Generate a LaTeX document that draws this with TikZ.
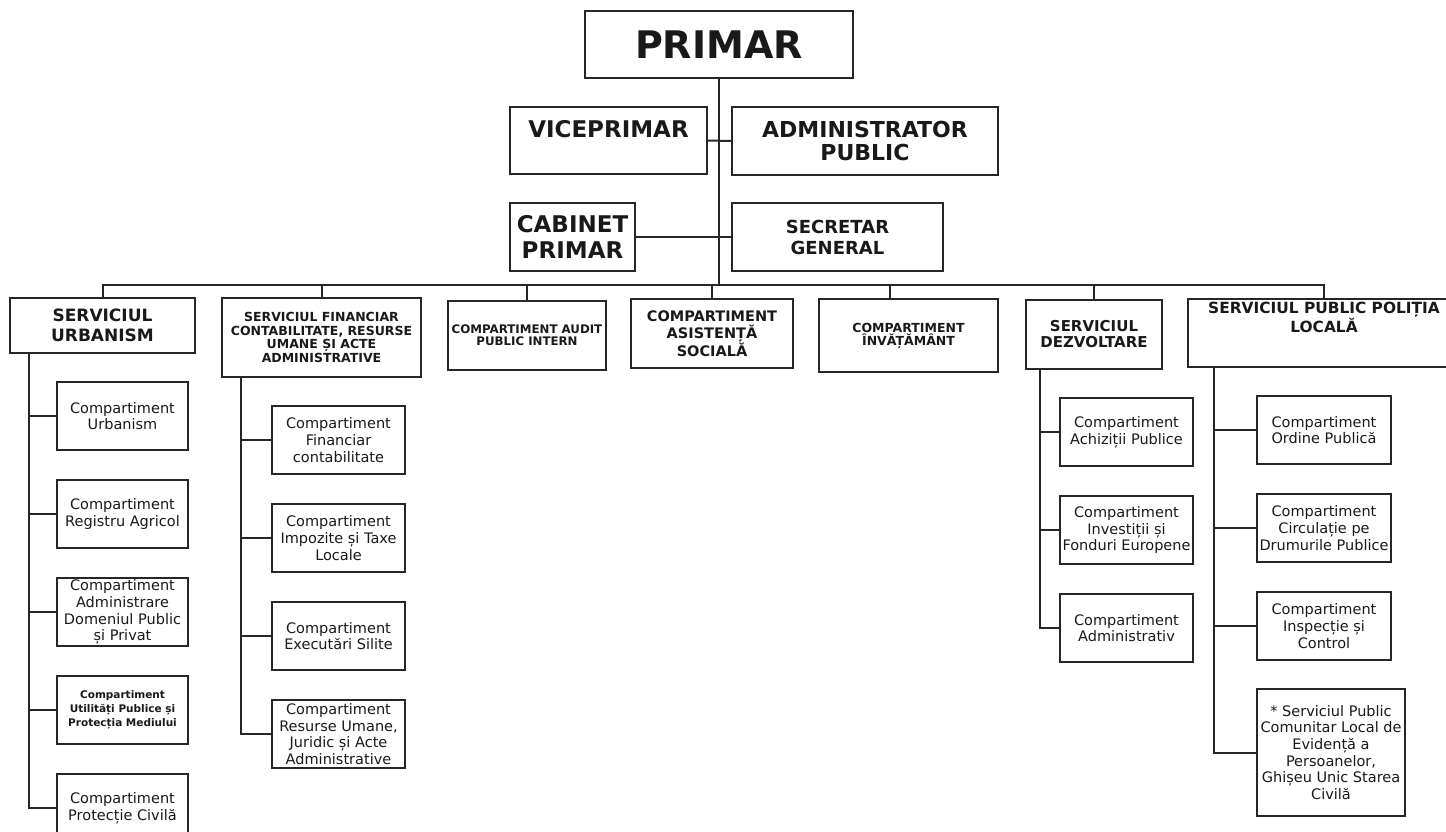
\documentclass[tikz,border=0pt]{standalone}
\usepackage{fontspec}
\setmainfont{DejaVu Sans}
\usetikzlibrary{
  positioning,  % Function "of" (e.g. [below=of x])
  calc,         % Calculations $...$
}
\newcommand{\fs}[2]{\fontsize{#1}{#2}\selectfont}
\def\mygap{28pt}
\tikzset{
  my box/.style={
    draw=black!85,
    line width=2pt,
    inner sep=0pt,
    align=center,
    text=black!90,
    rectangle
  },
  wh/.style 2 args={
    minimum width=#1,
    minimum height=#2
  },
  my head/.style={
    my box
  },
  my sub/.style={
    my box,
    wh={133pt}{68pt},
    font=\fs{14.5}{16.7}
  },
  my line/.style={
    draw=black!85,
    line width=2pt
  }
}
\begin{document}
\begin{tikzpicture}[x=1pt,y=-1pt]
\useasboundingbox (0,0) rectangle (1446,831);
% top management
\node[my head,wh={268pt}{67pt},font=\bfseries\fs{38}{40}] (pri) at (719,44.5) {PRIMAR};
\node[my head,wh={197pt}{67pt},font=\bfseries\fs{23}{23}] (vice) at (608.5,140.5) {VICEPRIMAR\\~};
\node[my head,wh={266pt}{68pt},font=\bfseries\fs{22}{23}] (adm) at (865,141) {ADMINISTRATOR\\PUBLIC};
\node[my head,wh={125pt}{68pt},font=\bfseries\fs{23}{26.5}] (cab) at (572.5,237) {CABINET\\PRIMAR};
\node[my head,wh={211pt}{68pt},font=\bfseries\fs{18}{21}] (sec) at (837.5,237) {SECRETAR\\GENERAL};
\coordinate (bus) at (719,285);
% departments
\node[my head,wh={185pt}{55pt},font=\bfseries\fs{17}{20}] (urb) at (102.5,325.5) {SERVICIUL\\URBANISM};
\node[my head,wh={199pt}{79pt},font=\bfseries\fs{12.5}{13.7}] (fin) at (321.5,337.5)
  {SERVICIUL FINANCIAR\\CONTABILITATE, RESURSE\\UMANE ȘI ACTE\\ADMINISTRATIVE};
\node[my head,wh={158pt}{69pt},font=\bfseries\fs{11.8}{12.5}] (aud) at (527,335) {COMPARTIMENT AUDIT\\PUBLIC INTERN};
\node[my head,wh={162pt}{69pt},font=\bfseries\fs{14.5}{16.5}] (asi) at (712,333.5) {COMPARTIMENT\\ASISTENȚĂ\\SOCIALĂ};
\node[my head,wh={179pt}{73pt},font=\bfseries\fs{12.5}{13}] (inv) at (908.5,335.5) {COMPARTIMENT\\ÎNVĂȚĂMÂNT};
\node[my head,wh={136pt}{69pt},font=\bfseries\fs{15}{16}] (dez) at (1094,334.5) {SERVICIUL\\DEZVOLTARE};
\node[my head,wh={272pt}{68pt},font=\bfseries\fs{15.4}{16}] (pol) at (1324,333) {SERVICIUL PUBLIC POLIȚIA\\LOCALĂ\\~\\~};
% Serviciul Urbanism
\node[my sub,minimum width=131pt] (u1) at (122.5,416) {Compartiment\\Urbanism};
\node[my sub,minimum width=131pt] (u2) [below=\mygap of u1] {Compartiment\\Registru Agricol};
\node[my sub,minimum width=131pt] (u3) [below=\mygap of u2] {Compartiment\\Administrare\\Domeniul Public\\și Privat};
\node[my sub,minimum width=131pt,font=\bfseries\fs{10.5}{14}] (u4) [below=\mygap of u3]
  {Compartiment\\Utilități Publice și\\Protecția Mediului};
\node[my sub,minimum width=131pt] (u5) [below=\mygap of u4] {Compartiment\\Protecție Civilă};
% Serviciul Financiar
\node[my sub] (f1) at (338.5,440) {Compartiment\\Financiar\\contabilitate};
\node[my sub] (f2) [below=\mygap of f1] {Compartiment\\Impozite și Taxe\\Locale};
\node[my sub] (f3) [below=\mygap of f2] {Compartiment\\Executări Silite};
\node[my sub] (f4) [below=\mygap of f3] {Compartiment\\Resurse Umane,\\Juridic și Acte\\Administrative};
% Serviciul Dezvoltare
\node[my sub] (d1) at (1126.5,432) {Compartiment\\Achiziții Publice};
\node[my sub] (d2) [below=\mygap of d1] {Compartiment\\Investiții și\\Fonduri Europene};
\node[my sub] (d3) [below=\mygap of d2] {Compartiment\\Administrativ};
% Serviciul Public Politia Locala
\node[my sub,minimum width=134pt] (p1) at (1324,430) {Compartiment\\Ordine Publică};
\node[my sub,minimum width=134pt] (p2) [below=\mygap of p1] {Compartiment\\Circulație pe\\Drumurile Publice};
\node[my sub,minimum width=134pt] (p3) [below=\mygap of p2] {Compartiment\\Inspecție și\\Control};
\node[my sub,wh={148pt}{127pt}] (p4) [below=27pt of p3,xshift=7pt]
  {* Serviciul Public\\Comunitar Local de\\Evidență a\\Persoanelor,\\Ghișeu Unic Starea\\Civilă};
% connectors
\draw[my line] (pri.south) -- (bus);
\draw[my line] (vice.east) -- (adm.west);
\draw[my line] (cab.east) -- (sec.west);
\draw[my line] (urb.north) |- (bus) -| (pol.north);
\foreach \n in {fin,aud,asi,dez}
  \draw[my line] (\n.north) -- (\n.north |- bus);
\draw[my line] ($(inv.north west)!0.4!(inv.north east)$) coordinate (invtop) -- (invtop |- bus);
\coordinate (urbtrunk) at ([xshift=20pt]urb.south west);
\coordinate (fintrunk) at ([xshift=20pt]fin.south west);
\coordinate (deztrunk) at ([xshift=15pt]dez.south west);
\coordinate (poltrunk) at ([xshift=27pt]pol.south west);
\draw[my line] (urbtrunk) |- (u5.west);
\draw[my line] (fintrunk) |- (f4.west);
\draw[my line] (deztrunk) |- (d3.west);
\draw[my line] (poltrunk) |- (p4.west);
\foreach \c in {u1,u2,u3,u4}
  \draw[my line] (\c.west) -- (\c.west -| urbtrunk);
\foreach \c in {f1,f2,f3}
  \draw[my line] (\c.west) -- (\c.west -| fintrunk);
\foreach \c in {d1,d2}
  \draw[my line] (\c.west) -- (\c.west -| deztrunk);
\foreach \c in {p1,p2,p3}
  \draw[my line] (\c.west) -- (\c.west -| poltrunk);
\end{tikzpicture}
\end{document}
